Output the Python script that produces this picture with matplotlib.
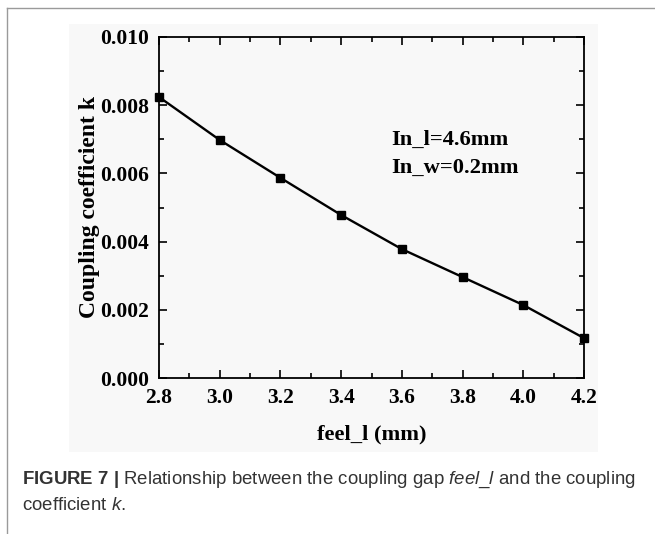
#!/usr/bin/env python3
"""
Coupling coefficient k versus coupling gap feel_l (Figure 7).
"""

import matplotlib
matplotlib.use('Agg')
import matplotlib.pyplot as plt
from matplotlib.lines import Line2D
from matplotlib.patches import Rectangle

# Data
feel_l = [2.8, 3.0, 3.2, 3.4, 3.6, 3.8, 4.0, 4.2]
coupling_k = [0.00824, 0.00698, 0.00587, 0.00478, 0.00378, 0.00296, 0.00214, 0.00117]
x_ticks = [2.8, 3.0, 3.2, 3.4, 3.6, 3.8, 4.0, 4.2]
y_ticks = [0.000, 0.002, 0.004, 0.006, 0.008, 0.010]

annotation = "In_l=4.6mm\nIn_w=0.2mm"
caption_line1 = (r"$\mathbf{FIGURE\ 7\ |}$ Relationship between the coupling gap "
                 r"$\mathit{feel\_l}$ and the coupling")
caption_line2 = r"coefficient $\mathit{k}$."

plt.rcParams['mathtext.fontset'] = 'custom'
plt.rcParams['mathtext.rm'] = 'Liberation Sans'
plt.rcParams['mathtext.it'] = 'Liberation Sans:italic'
plt.rcParams['mathtext.bf'] = 'Liberation Sans:bold'

serif = 'Liberation Serif'

fig = plt.figure(figsize=(6.55, 5.34), dpi=100)

# Faint background of the embedded chart image
fig.patches.append(Rectangle((69 / 655, 1 - 452 / 534), (598 - 69) / 655, (452 - 24) / 534,
                             transform=fig.transFigure, facecolor='#f8f8f8',
                             edgecolor='none', zorder=-10))

# Page frame lines (top and left)
fig.add_artist(Line2D([7 / 655, 1], [1 - 8 / 534, 1 - 8 / 534], transform=fig.transFigure,
                      color='#9a9a9a', linewidth=1.0))
fig.add_artist(Line2D([7 / 655, 7 / 655], [0, 1 - 8 / 534], transform=fig.transFigure,
                      color='#9a9a9a', linewidth=1.0))

ax = fig.add_axes([159 / 655, 1 - 378 / 534, (584 - 159) / 655, (378 - 37) / 534])
ax.set_facecolor('none')
ax.set_zorder(5)

ax.plot(feel_l, coupling_k, color='black', linewidth=1.7, marker='s',
        markersize=5.8, clip_on=False, zorder=3)

ax.set_xlim(2.8, 4.2)
ax.set_ylim(0.0, 0.010)
ax.set_xticks(x_ticks)
ax.set_yticks(y_ticks)
ax.set_xticks([2.9, 3.1, 3.3, 3.5, 3.7, 3.9, 4.1], minor=True)
ax.set_yticks([0.001, 0.003, 0.005, 0.007, 0.009], minor=True)
ax.set_xticklabels([f"{v:.1f}" for v in x_ticks])
ax.set_yticklabels([f"{v:.3f}" for v in y_ticks])

ax.tick_params(which='both', direction='in', top=True, right=True, width=1.2)
ax.tick_params(which='major', length=6)
ax.tick_params(which='minor', length=3.5)
ax.tick_params(axis='x', which='major', pad=7)
ax.tick_params(axis='y', which='major', pad=7)
for lab in ax.get_xticklabels() + ax.get_yticklabels():
    lab.set_fontfamily(serif)
    lab.set_fontweight('bold')
    lab.set_fontsize(15.5)
for spine in ax.spines.values():
    spine.set_linewidth(1.3)

ax.set_xlabel('feel_l (mm)', fontfamily=serif, fontweight='bold', fontsize=16.2, labelpad=12)
ax.set_ylabel('Coupling coefficient k', fontfamily=serif, fontweight='bold', fontsize=17,
              labelpad=0)

ax.text(3.565, 0.00657, annotation, fontfamily=serif, fontweight='bold', fontsize=16.2,
        va='center', ha='left', linespacing=1.55)

# Caption
fig.text(22 / 655, 1 - 480 / 534, caption_line1, fontfamily='Liberation Sans',
         fontsize=13.4, color='#333333', va='center', ha='left')
fig.text(22 / 655, 1 - 505 / 534, caption_line2, fontfamily='Liberation Sans',
         fontsize=13.4, color='#333333', va='center', ha='left')

fig.savefig('out.png', dpi=100)
